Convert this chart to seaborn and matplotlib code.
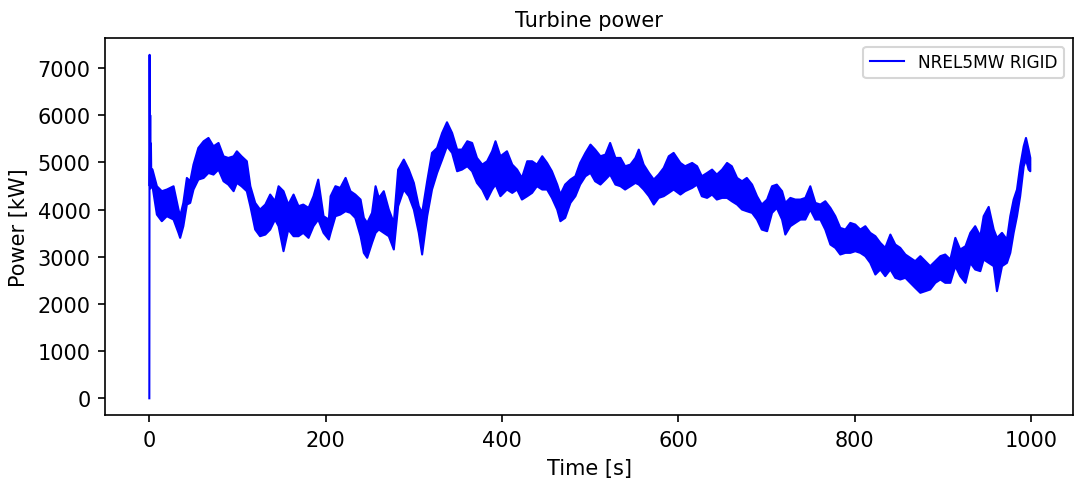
import numpy as np
import pandas as pd
import matplotlib
matplotlib.use("Agg")
import matplotlib.pyplot as plt
import seaborn as sns

# start-up transient (first few seconds)
t_start = [0.0, 0.3, 0.6, 1.0, 1.4, 1.8, 2.3, 3.0]
p_start = [0, 7280, 4500, 6000, 4450, 5400, 4550, 4850]

# envelope (upper / lower) of the oscillating power signal
t_env = [3, 8, 13.6, 19.3, 26.9, 32.5, 34.4, 38, 42, 45.8, 49.5, 55, 61,
         66.5, 72.2, 77.9, 83.6, 89, 95, 98.7, 104, 110, 114, 119.5, 125, 131,
         136.5, 142, 146, 151.6, 157, 163, 168.6, 174, 180, 185.6, 191, 197,
         203,
         205, 210.5, 216, 222, 227.5, 233, 239, 242.7, 246.5, 252, 256, 259.7,
         265.3, 271, 276.7, 281.6, 288, 293.7, 299.4, 305, 308.8, 314.5, 320,
         325.8, 331.5, 337, 342.8, 348.5, 354, 360, 365.5, 371, 377, 382.5,
         388.2, 392,
         397.6, 405, 411, 416.5, 422, 428, 433.5, 439, 445, 450.5, 456, 462,
         465.6, 471, 477, 482.6, 488, 494, 499.7, 505, 511, 516.7, 522, 528,
         533.7, 539, 545, 550.7, 554.5, 560, 566, 571.5, 577, 582.8, 588.5,
         594,
         601.7, 607, 615, 620.6, 626, 632, 637.6, 643, 649, 654.6, 660, 666,
         671.6, 677, 683, 688.6, 694, 700, 705.6, 711, 717, 720.7, 726.4, 732,
         737.8, 743.4, 749, 754.8, 760.4, 766, 771.8, 777.4, 783, 788.8,
         794.4, 800, 805.7, 811.4, 817, 822.8, 828.4, 834, 839.8, 845.4, 851,
         856.8, 862.4, 868, 873.8, 879.4, 885, 890.8, 896.5, 902, 907.8, 913.5,
         919, 925, 930.5, 936, 941.8, 945.6, 951.3, 957, 960.7, 966.4, 972,
         975.8, 979.6, 983.4, 987, 991, 993.6, 996.6, 998.5]
p_upper = [4858, 4505, 4400, 4435, 4505, 4011, 3870, 4152, 4681, 4611, 4964,
           5317, 5458, 5529, 5352, 5423, 5140, 5105, 5140, 5246, 5140, 5035,
           4505, 4152, 4011, 4117, 4329, 4188, 4505, 4400, 4117, 4329, 4082,
           4117, 4046, 4293, 4646, 3870, 3799,
           4294, 4506, 4470, 4682, 4400, 4329, 4223, 3835, 3729, 3941, 4506,
           4258, 4400, 4011, 3729, 4858, 5070, 4858, 4576, 4082, 3941, 4611,
           5212, 5317, 5635, 5861, 5635, 5282, 5282, 5459, 5423, 5106, 4964,
           5035, 5247, 5459,
           5141, 5247, 4964, 4858, 4682, 5035, 5035, 4964, 5141, 5000, 4823,
           4541, 4329, 4541, 4647, 4717, 5000, 5212, 5388, 5282, 5141, 5176,
           5423, 5106, 5106, 4929, 4964, 5106, 5282, 4964, 4788, 4647, 4752,
           4894, 5141, 5212,
           4999, 4929, 4999, 4929, 4717, 4787, 4858, 4752, 4858, 4999, 4929,
           4681, 4611, 4681, 4540, 4293, 4117, 4223, 4505, 4540, 4400, 4152,
           4258, 4223, 4223, 4258, 4505, 4152, 4117, 4187, 4046, 3870, 3622,
           3587,
           3728, 3693, 3587, 3658, 3517, 3446, 3305, 3199, 3481, 3269, 3199,
           3058, 2987, 2917, 3023, 2917, 2811, 2917, 3023, 3058, 2952, 3411,
           3164, 3234, 3517, 3658, 3446, 3870, 4067, 3587, 3411, 3517, 3376,
           3870, 4223, 4435, 4929, 5352, 5529, 5282, 5105]
p_lower = [4505, 3905, 3764, 3870, 3799, 3517, 3411, 3658, 4117, 4152, 4435,
           4646, 4681, 4787, 4752, 4858, 4611, 4540, 4400, 4576, 4505, 4400,
           4082, 3587, 3446, 3481, 3587, 3799, 3658, 3128, 3587, 3446, 3446,
           3517, 3411, 3658, 3799, 3517, 3376,
           3517, 3870, 3905, 3976, 3941, 3835, 3446, 3093, 2988, 3305, 3517,
           3588, 3517, 3446, 3164, 4082, 4435, 4294, 4011, 3517, 3058, 3870,
           4435, 4788, 5070, 5353, 5212, 4823, 4858, 4929, 4823, 4576, 4435,
           4223, 4435, 4541,
           4294, 4435, 4364, 4435, 4223, 4294, 4364, 4506, 4435, 4435, 4258,
           4011, 3764, 3835, 4153, 4294, 4541, 4717, 4788, 4611, 4541, 4647,
           4752, 4541, 4506, 4435, 4506, 4576, 4541, 4435, 4294, 4117, 4258,
           4294, 4364, 4435,
           4329, 4400, 4470, 4540, 4293, 4258, 4329, 4223, 4258, 4258, 4187,
           4117, 4011, 3976, 3940, 3799, 3587, 3552, 3940, 4046, 3799, 3481,
           3658, 3728, 3799, 3799, 4011, 3799, 3799, 3587, 3269, 3199, 3058,
           3093,
           3093, 3128, 3093, 3023, 2881, 2634, 2740, 2599, 2740, 2564, 2528,
           2564, 2458, 2352, 2246, 2281, 2317, 2458, 2528, 2458, 2458, 2811,
           2599, 2458, 2881, 2740, 2705, 2952, 2881, 2811, 2281, 2811, 2881,
           3093, 3517, 3870, 4293, 4928, 5070, 4858, 4823]

env = pd.DataFrame({
    "Time": t_env * 2,
    "Power": p_upper + p_lower,
})
start = pd.DataFrame({"Time": t_start, "Power": p_start})

fig, ax = plt.subplots(figsize=(7.233, 3.253), dpi=150)
fig.subplots_adjust(left=0.097, right=0.989, top=0.920, bottom=0.1475)

sns.lineplot(data=start, x="Time", y="Power", color="blue", linewidth=1.0,
             estimator=None, ax=ax)
# band between the upper and lower envelope, line through the middle
sns.lineplot(data=env, x="Time", y="Power", color="blue", linewidth=1.0,
             errorbar=("pi", 100), err_kws={"alpha": 1, "linewidth": 1.0},
             label="NREL5MW RIGID", ax=ax)

ax.set_xlim(-50, 1047.5)
ax.set_ylim(-355, 7635)
ax.set_title("Turbine power", fontsize=10)
ax.set_xlabel("Time [s]", fontsize=10)
ax.set_ylabel("Power [kW]", fontsize=10)
ax.tick_params(labelsize=10)
ax.legend(loc="upper right", fontsize=8.2)

fig.savefig("out.png", dpi=150)
